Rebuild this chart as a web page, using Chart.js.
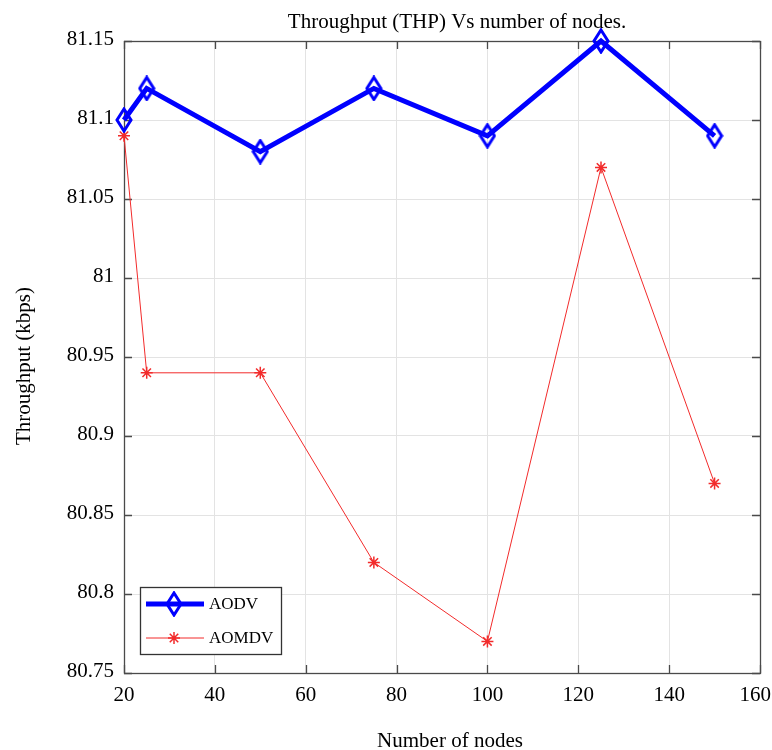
<!DOCTYPE html>
<html>
<head>
<meta charset="utf-8">
<script src="https://cdn.jsdelivr.net/npm/chart.js@4/dist/chart.umd.min.js"></script>
<style>
  html, body { margin: 0; padding: 0; background: #fff; }
</style>
</head>
<body>
<canvas id="chart_thp" width="772" height="750"></canvas>
<script>
var nodes = [20, 25, 50, 75, 100, 125, 150];
var aodv = [81.10, 81.12, 81.08, 81.12, 81.09, 81.15, 81.09];
var aomdv = [81.09, 80.94, 80.94, 80.82, 80.77, 81.07, 80.87];
var xTicks = [20, 40, 60, 80, 100, 120, 140, 160];
var yTicks = [80.75, 80.8, 80.85, 80.9, 80.95, 81, 81.05, 81.1, 81.15];

var serif = '"Liberation Serif", "Times New Roman", serif';

function toPoints(ys) {
  return nodes.map(function (n, i) { return { x: n, y: ys[i] }; });
}

// tall open diamond marker, drawn once and reused as pointStyle
function diamondMarker(color) {
  var c = document.createElement('canvas');
  c.width = 18; c.height = 26;
  var g = c.getContext('2d');
  g.strokeStyle = color;
  g.lineWidth = 3;
  g.lineJoin = 'miter';
  g.beginPath();
  g.moveTo(9, 2); g.lineTo(16, 13); g.lineTo(9, 24); g.lineTo(2, 13);
  g.closePath();
  g.stroke();
  return c;
}
var blueDiamond = diamondMarker('#0000ff');

// box round the plot with inward ticks on all four sides
var boxPlugin = {
  id: 'box',
  beforeDatasetsDraw: function (chart) {
    var ctx = chart.ctx, a = chart.chartArea;
    var xs = chart.scales.x, ys = chart.scales.y;
    ctx.save();
    ctx.strokeStyle = '#4a4a4a';
    ctx.lineWidth = 1.3;
    ctx.strokeRect(a.left + 0.5, a.top + 0.5, a.right - a.left, a.bottom - a.top);
    ctx.beginPath();
    xTicks.forEach(function (v) {
      var px = Math.round(xs.getPixelForValue(v)) + 0.5;
      ctx.moveTo(px, a.bottom); ctx.lineTo(px, a.bottom - 8);
      ctx.moveTo(px, a.top); ctx.lineTo(px, a.top + 8);
    });
    yTicks.forEach(function (v) {
      var py = Math.round(ys.getPixelForValue(v)) + 0.5;
      ctx.moveTo(a.left, py); ctx.lineTo(a.left + 8, py);
      ctx.moveTo(a.right, py); ctx.lineTo(a.right - 8, py);
    });
    ctx.stroke();

    // x tick labels, kept inside the canvas at the right end
    ctx.fillStyle = '#000';
    ctx.font = '21px ' + serif;
    ctx.textAlign = 'center';
    ctx.textBaseline = 'middle';
    var W = chart.width;
    xTicks.forEach(function (v) {
      var t = String(v);
      var hw = ctx.measureText(t).width / 2;
      var px = Math.min(xs.getPixelForValue(v), W - 1 - hw);
      ctx.fillText(t, px, a.bottom + 22);
    });
    ctx.restore();
  },
  afterDraw: function (chart) {
    var ctx = chart.ctx, a = chart.chartArea;
    ctx.save();
    ctx.fillStyle = '#000';
    ctx.font = '21px ' + serif;
    ctx.textAlign = 'center';
    ctx.textBaseline = 'alphabetic';
    ctx.fillText('Throughput (THP) Vs number of nodes.', 457, 28);
    ctx.fillText('Number of nodes', 450, 747);
    ctx.translate(30, 366);
    ctx.rotate(-Math.PI / 2);
    ctx.fillText('Throughput (kbps)', 0, 0);
    ctx.restore();

    // legend
    var lx = a.left + 16, ly = a.bottom - 86, lw = 141, lh = 67;
    ctx.save();
    ctx.fillStyle = '#fff';
    ctx.fillRect(lx, ly, lw, lh);
    ctx.strokeStyle = '#333';
    ctx.lineWidth = 1.3;
    ctx.strokeRect(lx + 0.5, ly + 0.5, lw, lh);
    chart.data.datasets.forEach(function (ds, i) {
      var cy = ly + 17 + i * 34;
      ctx.strokeStyle = ds.borderColor;
      ctx.lineWidth = ds.borderWidth;
      ctx.beginPath();
      ctx.moveTo(lx + 6, cy); ctx.lineTo(lx + 64, cy);
      ctx.stroke();
      ctx.fillStyle = 'rgba(0,0,0,0)';
      ctx.lineWidth = ds.pointBorderWidth;
      Chart.helpers.drawPoint(ctx, {
        pointStyle: ds.pointStyle,
        radius: ds.pointRadius,
        borderWidth: ds.pointBorderWidth,
        rotation: 0
      }, lx + 34, cy);
      ctx.fillStyle = '#000';
      ctx.font = '17px ' + serif;
      ctx.textAlign = 'left';
      ctx.textBaseline = 'middle';
      ctx.fillText(ds.label, lx + 69, cy + 1);
    });
    ctx.restore();
  }
};

new Chart(document.getElementById('chart_thp'), {
  type: 'line',
  data: {
    datasets: [{
      label: 'AODV',
      data: toPoints(aodv),
      borderColor: '#0000ff',
      borderWidth: 5,
      pointStyle: blueDiamond,
      pointRadius: 9,
      pointBorderWidth: 3,
      pointBorderColor: '#0000ff',
      pointBackgroundColor: 'rgba(0,0,0,0)',
      tension: 0,
      clip: false
    }, {
      label: 'AOMDV',
      data: toPoints(aomdv),
      borderColor: '#f22b2b',
      borderWidth: 1,
      pointStyle: 'star',
      pointRadius: 6,
      pointBorderWidth: 1.5,
      pointBorderColor: '#f22b2b',
      pointBackgroundColor: 'rgba(0,0,0,0)',
      tension: 0,
      clip: false
    }]
  },
  options: {
    responsive: false,
    animation: false,
    layout: { padding: { top: 41, right: 12, left: 0, bottom: 0 } },
    plugins: {
      legend: { display: false },
      title: { display: false },
      tooltip: { enabled: false }
    },
    scales: {
      x: {
        type: 'linear',
        min: 20,
        max: 160,
        afterBuildTicks: function (s) { s.ticks = xTicks.map(function (v) { return { value: v }; }); },
        afterFit: function (s) { s.height = 77; s.paddingLeft = 0; s.paddingRight = 0; },
        ticks: { display: false },
        grid: { color: '#e3e3e3', drawTicks: false },
        border: { display: false }
      },
      y: {
        min: 80.75,
        max: 81.15,
        afterBuildTicks: function (s) { s.ticks = yTicks.map(function (v) { return { value: v }; }); },
        afterFit: function (s) { s.width = 124; s.paddingTop = 0; s.paddingBottom = 0; },
        ticks: {
          color: '#000',
          font: { family: serif, size: 21 },
          padding: 10,
          labelOffset: -2,
          callback: function (v) { return String(+v.toFixed(2)); }
        },
        grid: { color: '#e3e3e3', drawTicks: false },
        border: { display: false }
      }
    }
  },
  plugins: [boxPlugin]
});
</script>
</body>
</html>
